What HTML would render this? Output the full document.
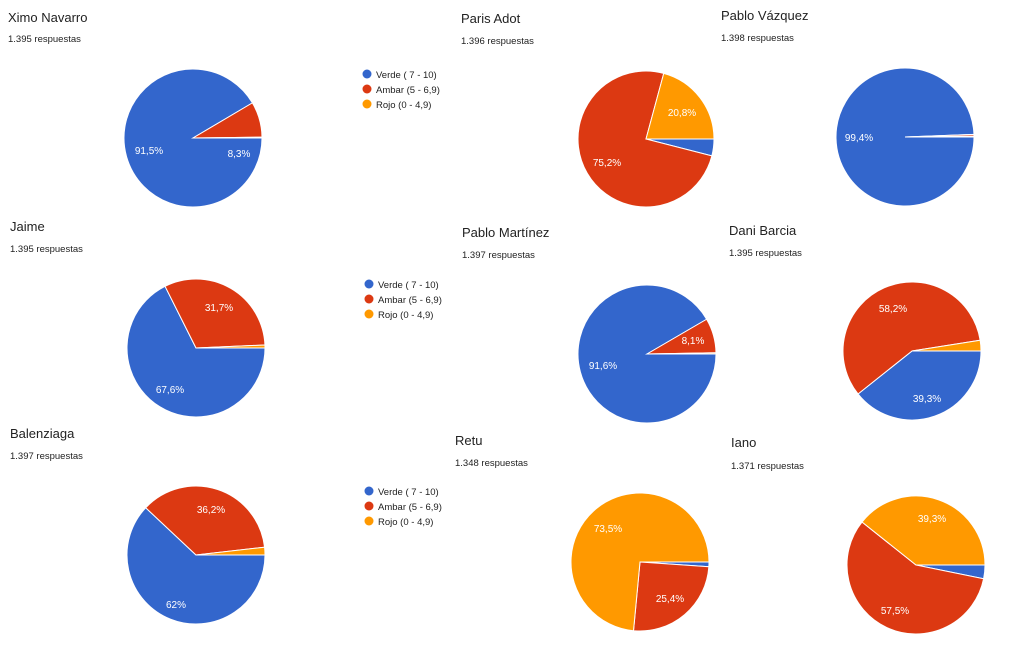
<!DOCTYPE html>
<html><head><meta charset="utf-8"><style>
html,body{margin:0;padding:0;background:#fff;}
svg{display:block;font-family:"Liberation Sans",Arial,sans-serif;}
.t{font-size:13px;fill:#222;}
.s{font-size:9.5px;fill:#222;}
.l{font-size:10px;fill:#fff;text-anchor:middle;}
.g{font-size:9.5px;fill:#222;}
</style></head><body>
<svg id="c" width="1024" height="660" viewBox="0 0 1024 660">
<g id="pies"></g>
<text class="t" x="8" y="22">Ximo Navarro</text><text class="s" x="8" y="42">1.395 respuestas</text>
<text class="t" x="461" y="23">Paris Adot</text><text class="s" x="461" y="44">1.396 respuestas</text>
<text class="t" x="721" y="20">Pablo Vázquez</text><text class="s" x="721" y="41">1.398 respuestas</text>
<text class="t" x="10" y="231">Jaime</text><text class="s" x="10" y="252">1.395 respuestas</text>
<text class="t" x="462" y="237">Pablo Martínez</text><text class="s" x="462" y="258">1.397 respuestas</text>
<text class="t" x="729" y="235">Dani Barcia</text><text class="s" x="729" y="256">1.395 respuestas</text>
<text class="t" x="10" y="438">Balenziaga</text><text class="s" x="10" y="459">1.397 respuestas</text>
<text class="t" x="455" y="445">Retu</text><text class="s" x="455" y="466">1.348 respuestas</text>
<text class="t" x="731" y="447">Iano</text><text class="s" x="731" y="469">1.371 respuestas</text>

<g>
<circle cx="367" cy="74" r="4.5" fill="#3366cc"/><text class="g" x="376" y="78">Verde ( 7 - 10)</text>
<circle cx="367" cy="89" r="4.5" fill="#dc3912"/><text class="g" x="376" y="93">Ambar (5 - 6,9)</text>
<circle cx="367" cy="104" r="4.5" fill="#ff9900"/><text class="g" x="376" y="108">Rojo (0 - 4,9)</text>
<circle cx="369" cy="284" r="4.5" fill="#3366cc"/><text class="g" x="378" y="288">Verde ( 7 - 10)</text>
<circle cx="369" cy="299" r="4.5" fill="#dc3912"/><text class="g" x="378" y="303">Ambar (5 - 6,9)</text>
<circle cx="369" cy="314" r="4.5" fill="#ff9900"/><text class="g" x="378" y="318">Rojo (0 - 4,9)</text>
<circle cx="369" cy="491" r="4.5" fill="#3366cc"/><text class="g" x="378" y="495">Verde ( 7 - 10)</text>
<circle cx="369" cy="506" r="4.5" fill="#dc3912"/><text class="g" x="378" y="510">Ambar (5 - 6,9)</text>
<circle cx="369" cy="521" r="4.5" fill="#ff9900"/><text class="g" x="378" y="525">Rojo (0 - 4,9)</text>
</g>

<g id="labels">
<text class="l" x="149" y="154">91,5%</text><text class="l" x="239" y="157">8,3%</text>
<text class="l" x="682" y="116">20,8%</text><text class="l" x="607" y="166">75,2%</text>
<text class="l" x="859" y="141">99,4%</text>
<text class="l" x="219" y="311">31,7%</text><text class="l" x="170" y="393">67,6%</text>
<text class="l" x="603" y="369">91,6%</text><text class="l" x="693" y="344">8,1%</text>
<text class="l" x="893" y="312">58,2%</text><text class="l" x="927" y="402">39,3%</text>
<text class="l" x="211" y="513">36,2%</text><text class="l" x="176" y="608">62%</text>
<text class="l" x="608" y="532">73,5%</text><text class="l" x="670" y="602">25,4%</text>
<text class="l" x="932" y="522">39,3%</text><text class="l" x="895" y="614">57,5%</text>
</g>
</svg>
<script>
var pies=[
[193,138,69,[91.5,8.3,0.2]],
[646,139,68,[4.0,75.2,20.8]],
[905,137,69,[99.4,0.4,0.2]],
[196,348,69,[67.6,31.7,0.7]],
[647,354,69,[91.6,8.1,0.3]],
[912,351,69,[39.3,58.2,2.5]],
[196,555,69,[62,36.2,1.8]],
[640,562,69,[1.1,25.4,73.5]],
[916,565,69,[3.2,57.5,39.3]]];
var cols=["#3366cc","#dc3912","#ff9900"];
var g=document.getElementById("pies"),h="";
pies.forEach(function(p){
 var cx=p[0],cy=p[1],r=p[2],a=0;
 p[3].forEach(function(v,i){
  var a2=a+v/100*2*Math.PI;
  var x1=cx+r*Math.cos(a),y1=cy+r*Math.sin(a),x2=cx+r*Math.cos(a2),y2=cy+r*Math.sin(a2);
  var large=(a2-a)>Math.PI?1:0;
  h+='<path d="M'+cx+','+cy+' L'+x1+','+y1+' A'+r+','+r+' 0 '+large+' 1 '+x2+','+y2+' Z" fill="'+cols[i]+'" stroke="#fff" stroke-width="1"/>';
  a=a2;
 });
});
g.innerHTML=h;
</script>
</body></html>
